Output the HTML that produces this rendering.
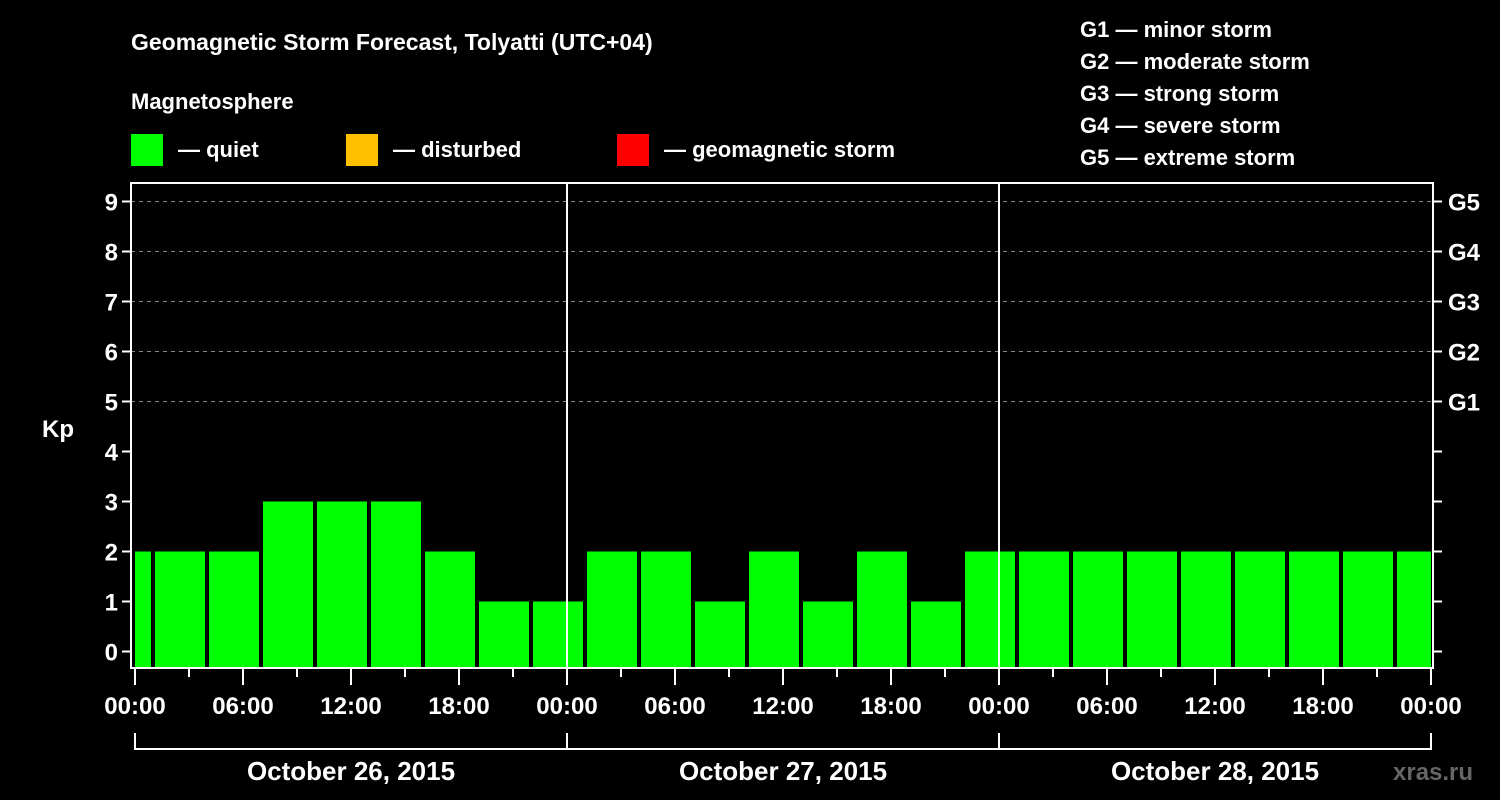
<!DOCTYPE html>
<html><head><meta charset="utf-8"><style>
body{margin:0;background:#000;}
svg{display:block;font-family:"Liberation Sans",Arial,sans-serif;font-weight:bold;}
</style></head><body>
<svg width="1500" height="800" viewBox="0 0 1500 800">
<rect width="1500" height="800" fill="#000"/>
<text x="131" y="50" fill="#fff" font-size="23">Geomagnetic Storm Forecast, Tolyatti (UTC+04)</text>
<text x="131" y="109" fill="#fff" font-size="22">Magnetosphere</text>
<rect x="131" y="134" width="32" height="32" fill="#00ff00"/>
<text x="178" y="157" fill="#fff" font-size="22">— quiet</text>
<rect x="346" y="134" width="32" height="32" fill="#ffc000"/>
<text x="393" y="157" fill="#fff" font-size="22">— disturbed</text>
<rect x="617" y="134" width="32" height="32" fill="#ff0000"/>
<text x="664" y="157" fill="#fff" font-size="22">— geomagnetic storm</text>
<g fill="#fff" font-size="22">
<text x="1080" y="37">G1 — minor storm</text>
<text x="1080" y="69">G2 — moderate storm</text>
<text x="1080" y="101">G3 — strong storm</text>
<text x="1080" y="133">G4 — severe storm</text>
<text x="1080" y="165">G5 — extreme storm</text>
</g>
<text x="42" y="437" fill="#fff" font-size="24">Kp</text>
<g id="grid"></g>
<g id="bars"></g>
<g id="axes"></g>
<text x="1393" y="780" fill="#666" font-size="24">xras.ru</text>
</svg>
<script>
const values=[2,2,2,3,3,3,2,1,1,2,2,1,2,1,2,1,2,2,2,2,2,2,2,2,2];
const barStartHours=[-2,1,4,7,10,13,16,19,22,25,28,31,34,37,40,43,46,49,52,55,58,61,64,67,70];
const dayLabels=["October 26, 2015","October 27, 2015","October 28, 2015"];
const gLabels=["G1","G2","G3","G4","G5"];
const NS="http://www.w3.org/2000/svg";
const X0=135,PXH=18,TOTAL=72,Y0=651.5,PXK=50,TOP=183,BOT=668,LEFT=131,RIGHT=1433;
const xs=h=>X0+h*PXH, ys=k=>Y0-k*PXK;
function mk(tag,attrs,parent){const e=document.createElementNS(NS,tag);for(const k in attrs)e.setAttribute(k,attrs[k]);document.getElementById(parent).appendChild(e);return e;}
for(let k=0;k<=9;k++){
 if(k>=5){const l=mk('line',{x1:LEFT,x2:RIGHT,y1:ys(k),y2:ys(k),stroke:'#888','stroke-dasharray':'4,4','stroke-width':1},'grid');
 
 }
}
values.forEach((v,i)=>{
 const a=Math.max(xs(barStartHours[i])+2,X0), b=Math.min(xs(barStartHours[i]+3)-2,xs(TOTAL));
 const r=mk('rect',{x:a,y:ys(v),width:b-a,height:BOT-1-ys(v),fill:'#00ff00'},'bars');
 
 
});
mk('rect',{x:LEFT,y:TOP,width:RIGHT-LEFT,height:BOT-TOP,fill:'none',stroke:'#fff','stroke-width':2},'axes');
for(let d=1;d<3;d++){const l=mk('line',{x1:xs(24*d),x2:xs(24*d),y1:TOP,y2:BOT,stroke:'#fff','stroke-width':2},'axes');
 
 }
for(let k=0;k<=9;k++){
 mk('line',{x1:LEFT-9,x2:LEFT,y1:ys(k),y2:ys(k),stroke:'#fff','stroke-width':2},'axes');
 mk('line',{x1:RIGHT,x2:RIGHT+9,y1:ys(k),y2:ys(k),stroke:'#fff','stroke-width':2},'axes');
 const t=mk('text',{x:118,y:ys(k)+9,fill:'#fff','font-size':24,'text-anchor':'end'},'axes');t.textContent=k;
 
 
 if(k>=5){const g=mk('text',{x:1448,y:ys(k)+9,fill:'#fff','font-size':24},'axes');g.textContent=gLabels[k-5];
 
 }
}
for(let h=0;h<=TOTAL;h+=3){
 const long=h%6===0;
 mk('line',{x1:xs(h),x2:xs(h),y1:BOT,y2:BOT+(long?17:9),stroke:'#fff','stroke-width':2},'axes');
 if(long){const t=mk('text',{x:xs(h),y:714,fill:'#fff','font-size':24,'text-anchor':'middle'},'axes');
 t.textContent=String(h%24).padStart(2,'0')+':00';
 
 }
}
mk('line',{x1:xs(0),x2:xs(TOTAL),y1:749,y2:749,stroke:'#fff','stroke-width':2},'axes');
for(let d=0;d<=3;d++)mk('line',{x1:xs(24*d),x2:xs(24*d),y1:733,y2:750,stroke:'#fff','stroke-width':2},'axes');
dayLabels.forEach((s,d)=>{const t=mk('text',{x:xs(24*d+12),y:780,fill:'#fff','font-size':26,'text-anchor':'middle'},'axes');t.textContent=s;
 
 });
</script>
</body></html>
